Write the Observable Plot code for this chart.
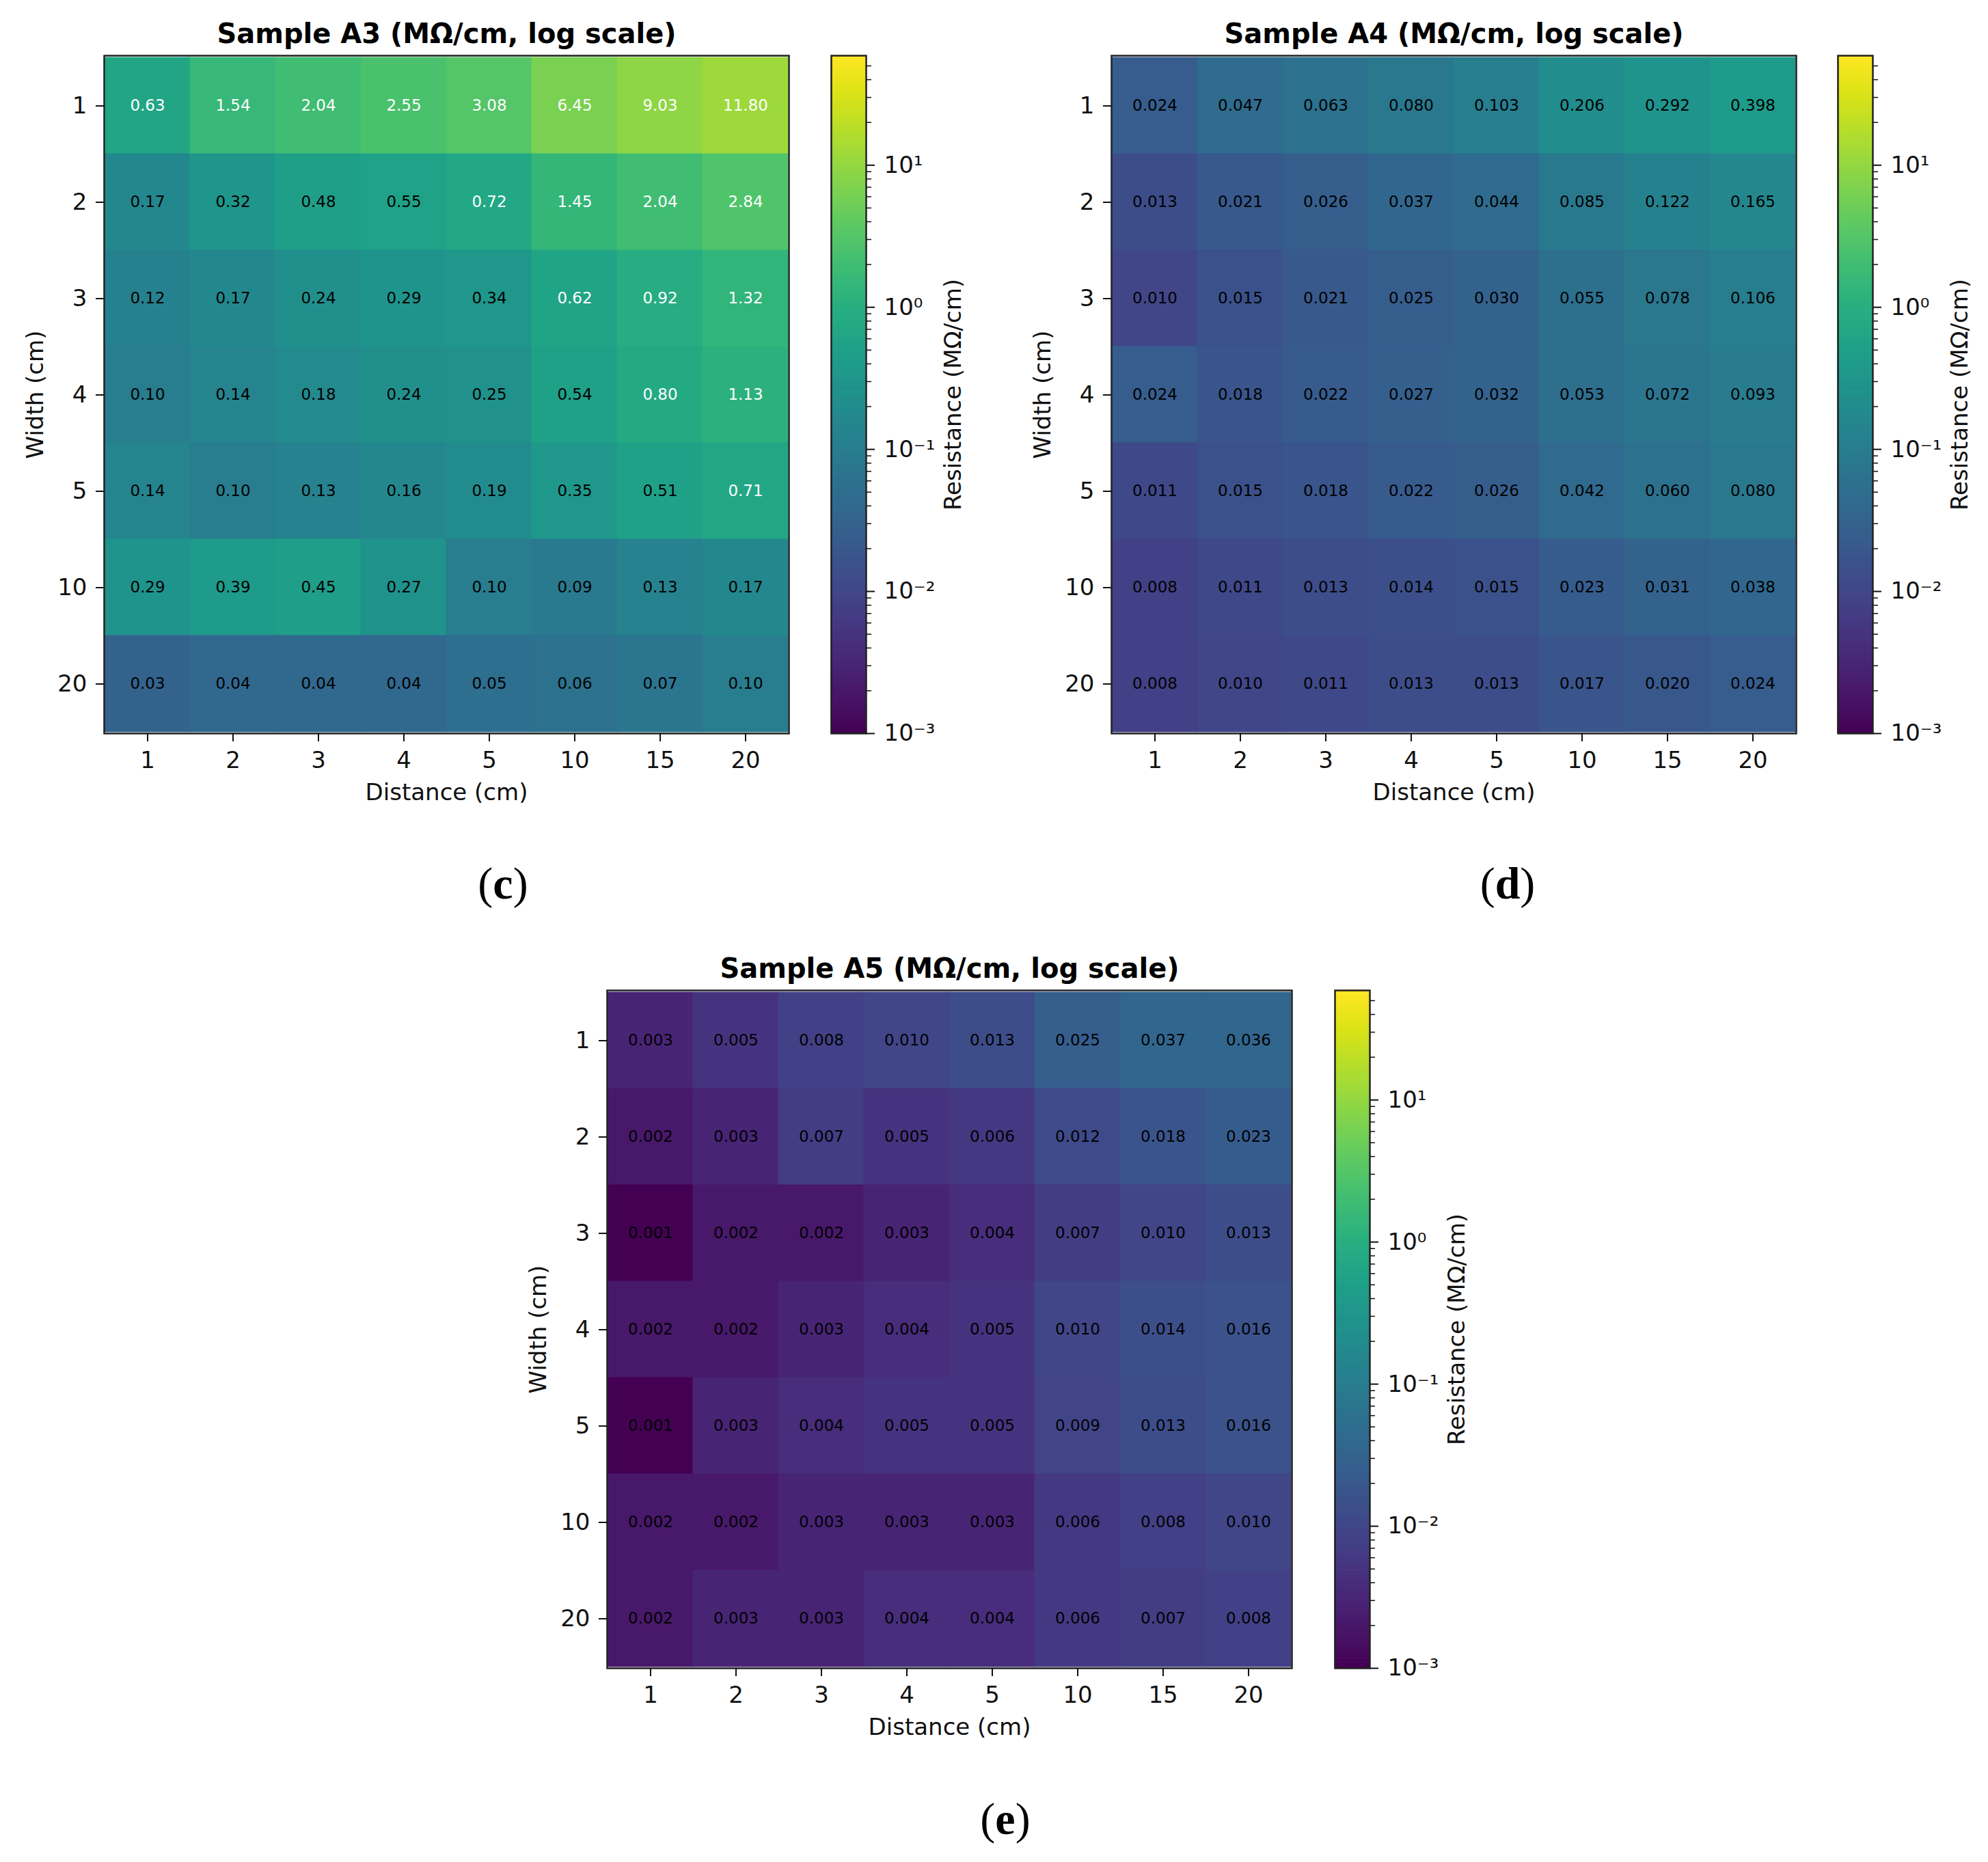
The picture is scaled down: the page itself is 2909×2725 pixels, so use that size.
<!DOCTYPE html>
<html><head><meta charset="utf-8">
<script src="https://cdn.jsdelivr.net/npm/d3@7"></script>
<script src="https://cdn.jsdelivr.net/npm/@observablehq/plot@0.6"></script>
<style>
html,body{margin:0;padding:0;background:#fff;}
#fig{position:relative;width:2909px;height:2725px;background:#fff;overflow:hidden;}
.abs{position:absolute;}
.plab{position:absolute;font-family:"Liberation Serif",serif;font-size:66px;color:#000;transform:translate(-50%,-50%);white-space:nowrap;}
</style></head><body><div id="fig"></div>
<script>
// ---- data ----
const distances = ["1","2","3","4","5","10","15","20"];
const widths = ["1","2","3","4","5","10","20"];

const a3Values = [
  [0.63, 1.54, 2.04, 2.55, 3.08, 6.45, 9.03, 11.80],
  [0.17, 0.32, 0.48, 0.55, 0.72, 1.45, 2.04, 2.84],
  [0.12, 0.17, 0.24, 0.29, 0.34, 0.62, 0.92, 1.32],
  [0.10, 0.14, 0.18, 0.24, 0.25, 0.54, 0.80, 1.13],
  [0.14, 0.10, 0.13, 0.16, 0.19, 0.35, 0.51, 0.71],
  [0.29, 0.39, 0.45, 0.27, 0.10, 0.09, 0.13, 0.17],
  [0.03, 0.04, 0.04, 0.04, 0.05, 0.06, 0.07, 0.10]
];
const a4Values = [
  [0.024, 0.047, 0.063, 0.080, 0.103, 0.206, 0.292, 0.398],
  [0.013, 0.021, 0.026, 0.037, 0.044, 0.085, 0.122, 0.165],
  [0.010, 0.015, 0.021, 0.025, 0.030, 0.055, 0.078, 0.106],
  [0.024, 0.018, 0.022, 0.027, 0.032, 0.053, 0.072, 0.093],
  [0.011, 0.015, 0.018, 0.022, 0.026, 0.042, 0.060, 0.080],
  [0.008, 0.011, 0.013, 0.014, 0.015, 0.023, 0.031, 0.038],
  [0.008, 0.010, 0.011, 0.013, 0.013, 0.017, 0.020, 0.024]
];
const a5Values = [
  [0.003, 0.005, 0.008, 0.010, 0.013, 0.025, 0.037, 0.036],
  [0.002, 0.003, 0.007, 0.005, 0.006, 0.012, 0.018, 0.023],
  [0.001, 0.002, 0.002, 0.003, 0.004, 0.007, 0.010, 0.013],
  [0.002, 0.002, 0.003, 0.004, 0.005, 0.010, 0.014, 0.016],
  [0.001, 0.003, 0.004, 0.005, 0.005, 0.009, 0.013, 0.016],
  [0.002, 0.002, 0.003, 0.003, 0.003, 0.006, 0.008, 0.010],
  [0.002, 0.003, 0.003, 0.004, 0.004, 0.006, 0.007, 0.008]
];

const titles = ["Sample A3 (MΩ/cm, log scale)", "Sample A4 (MΩ/cm, log scale)", "Sample A5 (MΩ/cm, log scale)"];
const decimals = [2, 3, 3];
const panelTags = ["c", "d", "e"];
const xLabel = "Distance (cm)";
const yLabel = "Width (cm)";
const cbLabel = "Resistance (MΩ/cm)";
const colorDomain = [0.001, 59];
const cbMajorTicks = [0.001, 0.01, 0.1, 1, 10];
const cbMajorLabels = ["10⁻³", "10⁻²", "10⁻¹", "10⁰", "10¹"];
const textThreshold = 0.6;

// ---- drawing ----
const fig = document.getElementById("fig");
const FONT = "DejaVu Sans";
const FW = 1002, FH = 992;

const cbMinorTicks = [];
for (const base of [0.001, 0.01, 0.1, 1, 10]) {
  for (let k = 2; k <= 9; k++) { const t = base * k; if (t <= colorDomain[1]) cbMinorTicks.push(t); }
}

function place(el, left, top) {
  el.classList.add("abs");
  el.style.left = left + "px";
  el.style.top = top + "px";
  fig.appendChild(el);
}

function heatmap(values, dec, title, L, T) {
  const data = [];
  widths.forEach((w, i) => distances.forEach((d, j) => data.push({w, d, v: values[i][j]})));
  const ML = 170, MT = 100, MR = 30, MB = 150;
  const svg = Plot.plot({
    width: FW + ML + MR, height: FH + MT + MB,
    marginLeft: ML, marginTop: MT, marginRight: MR, marginBottom: MB,
    style: {fontFamily: FONT, fontSize: "34px", background: "transparent", overflow: "visible", color: "#111"},
    x: {type: "band", domain: distances, padding: 0},
    y: {type: "band", domain: widths, padding: 0},
    color: {type: "log", domain: colorDomain, scheme: "viridis"},
    marks: [
      Plot.cell(data, {x: "d", y: "w", fill: "v", stroke: "v", strokeWidth: 1}),
      Plot.text(data, {filter: d => d.v >= textThreshold, x: "d", y: "w", text: d => d.v.toFixed(dec), fill: "white", fontSize: 23}),
      Plot.text(data, {filter: d => d.v < textThreshold, x: "d", y: "w", text: d => d.v.toFixed(dec), fill: "black", fontSize: 23}),
      Plot.frame({stroke: "#222", strokeWidth: 2.5}),
      Plot.axisX({tickSize: 12, tickPadding: 14, fontSize: 34, strokeWidth: 2, label: null}),
      Plot.axisY({tickSize: 12, tickPadding: 13, fontSize: 34, strokeWidth: 2, label: null}),
      Plot.text([xLabel], {frameAnchor: "bottom", dy: 87, lineAnchor: "middle", textAnchor: "middle", fontSize: 34, fill: "#111"}),
      Plot.text([yLabel], {frameAnchor: "left", dx: -100, rotate: -90, lineAnchor: "middle", textAnchor: "middle", fontSize: 34, fill: "#111"}),
      Plot.text([title], {frameAnchor: "top", dy: -19, lineAnchor: "bottom", textAnchor: "middle", fontWeight: "bold", fontSize: 40, fill: "#000"})
    ]
  });
  place(svg, L - ML, T - MT);
}

function colorbar(L, T) {
  const ML = 20, MT = 100, MR = 260, MB = 150, W = 51;
  const n = 400;
  const lo = Math.log10(colorDomain[0]), hi = Math.log10(colorDomain[1]);
  const steps = d3.range(n).map(i => ({
    y1: Math.pow(10, lo + (hi - lo) * i / n),
    y2: Math.pow(10, lo + (hi - lo) * (i + 1) / n),
    v: Math.pow(10, lo + (hi - lo) * (i + 0.5) / n)
  }));
  const svg = Plot.plot({
    width: W + ML + MR, height: FH + MT + MB,
    marginLeft: ML, marginTop: MT, marginRight: MR, marginBottom: MB,
    style: {fontFamily: FONT, fontSize: "34px", background: "transparent", overflow: "visible", color: "#111"},
    y: {type: "log", domain: colorDomain, axis: null},
    color: {type: "log", domain: colorDomain, scheme: "viridis"},
    marks: [
      Plot.rect(steps, {y1: "y1", y2: "y2", fill: "v", stroke: "v", strokeWidth: 1}),
      Plot.frame({stroke: "#222", strokeWidth: 2.5}),
      Plot.axisY({anchor: "right", ticks: cbMinorTicks, tickSize: 7, tickFormat: () => "", strokeWidth: 1.5, label: null}),
      Plot.axisY({anchor: "right", ticks: cbMajorTicks, tickSize: 12, tickPadding: 14, fontSize: 34, strokeWidth: 2, label: null,
                  tickFormat: d => cbMajorLabels[cbMajorTicks.indexOf(d)]}),
      Plot.text([cbLabel], {frameAnchor: "right", dx: 128, rotate: -90, lineAnchor: "middle", textAnchor: "middle", fontSize: 34, fill: "#111"})
    ]
  });
  place(svg, L - ML, T - MT);
}

function tag(letter, cx, cy) {
  const d = document.createElement("div");
  d.className = "plab";
  d.style.left = cx + "px";
  d.style.top = cy + "px";
  d.innerHTML = "(<b>" + letter + "</b>)";
  fig.appendChild(d);
}

const panels = [
  {values: a3Values, L: 152, T: 81, cbL: 1216, tag: [736, 1293]},
  {values: a4Values, L: 1626, T: 81, cbL: 2689, tag: [2206, 1293]},
  {values: a5Values, L: 888, T: 1449, cbL: 1953, tag: [1471, 2662]}
];
panels.forEach((p, i) => {
  heatmap(p.values, decimals[i], titles[i], p.L, p.T);
  colorbar(p.cbL, p.T);
  tag(panelTags[i], p.tag[0], p.tag[1]);
});
</script></body></html>
